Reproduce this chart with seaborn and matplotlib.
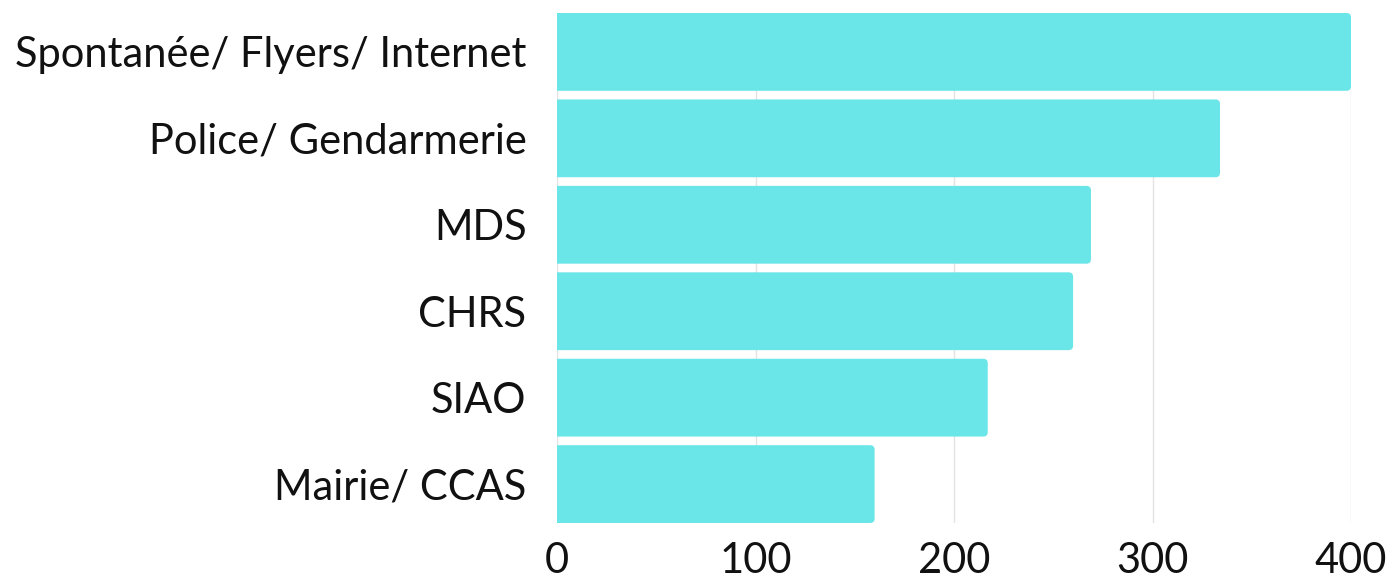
import matplotlib
matplotlib.use("Agg")
import matplotlib.pyplot as plt
from matplotlib.patches import FancyBboxPatch
import seaborn as sns
import pandas as pd

categories = ["Spontanée/ Flyers/ Internet", "Police/ Gendarmerie", "MDS", "CHRS", "SIAO", "Mairie/ CCAS"]
values = [400, 334, 269, 260, 217, 160]
x_ticks = [0, 100, 200, 300, 400]

df = pd.DataFrame({"cat": categories, "val": values})

sns.set_theme(style="white")
plt.rcParams["font.family"] = ["Lato", "DejaVu Sans"]

W, H, DPI = 1391, 585, 100
fig, ax = plt.subplots(figsize=(W / DPI, H / DPI), dpi=DPI)
fig.subplots_adjust(left=557 / W, right=1351 / W, top=1 - 13 / H, bottom=1 - 523 / H)

color = "#6ae5e8"
sns.barplot(data=df, y="cat", x="val", orient="h", color=color, width=0.9,
            saturation=1, ax=ax, zorder=2)

ax.set_xlim(0, 400)
ax.set_ylim(len(categories) - 0.55, -0.45)

# rounded corners
ax_w_px = 1351 - 557
ax_h_px = 523 - 13
xu = 400 / ax_w_px
yu = (len(categories) - 0.1) / ax_h_px
r_px = 4.5
r = r_px * xu
aspect = yu / xu
for p in list(ax.patches):
    x0, y0 = p.get_x(), p.get_y()
    w, h = p.get_width(), p.get_height()
    fb = FancyBboxPatch((x0 - r, y0), w + r, h,
                        boxstyle=f"round,pad=0,rounding_size={r}",
                        mutation_aspect=aspect, facecolor=color,
                        edgecolor="none", zorder=2, clip_on=True)
    p.remove()
    ax.add_patch(fb)

ax.set_xticks(x_ticks)
ax.set_xticklabels([str(t) for t in x_ticks])
ax.grid(axis="x", color="#e3e3e3", linewidth=1, zorder=0)
ax.grid(axis="y", visible=False)
ax.set_axisbelow(True)
for s in ax.spines.values():
    s.set_visible(False)
ax.tick_params(axis="both", length=0, labelsize=30, colors="#111111")
ax.tick_params(axis="y", pad=22)
ax.tick_params(axis="x", pad=14)
ax.set_xlabel("")
ax.set_ylabel("")

fig.savefig("out.png", dpi=DPI, facecolor="white")
